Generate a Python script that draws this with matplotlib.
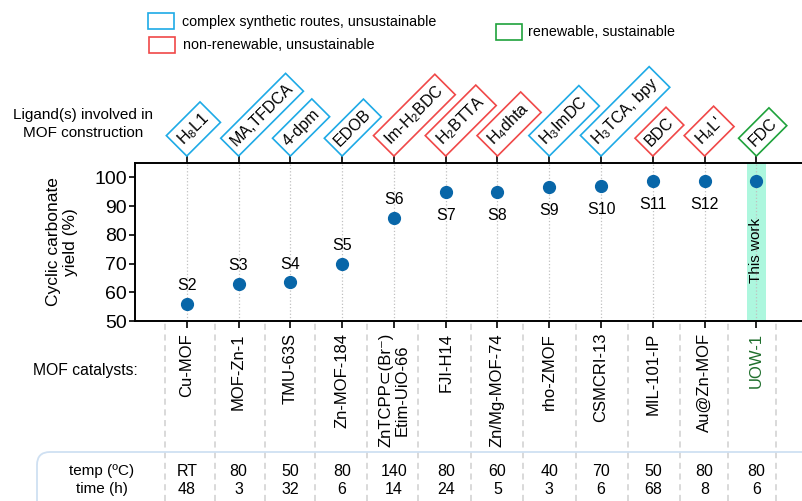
import numpy as np
import matplotlib.pyplot as plt
import matplotlib.transforms as mtransforms
from matplotlib.patches import Rectangle, FancyBboxPatch

plt.rcParams['font.family'] = ['Liberation Sans', 'DejaVu Sans']
plt.rcParams['mathtext.fontset'] = 'custom'
plt.rcParams['mathtext.rm'] = 'Liberation Sans'
plt.rcParams['mathtext.it'] = 'Liberation Sans:italic'

# data
catalysts = ['Cu-MOF', 'MOF-Zn-1', 'TMU-63S', 'Zn-MOF-184',
             'ZnTCPP\u2282(Br\u207b)\nEtim-UiO-66', 'FJI-H14', 'Zn/Mg-MOF-74',
             'rho-ZMOF', 'CSMCRI-13', 'MIL-101-IP', 'Au@Zn-MOF', 'UOW-1']
refs = ['S2', 'S3', 'S4', 'S5', 'S6', 'S7', 'S8', 'S9', 'S10', 'S11', 'S12', '']
yields = [56, 63, 63.5, 70, 86, 95, 95, 96.7, 97.1, 98.9, 98.9, 98.8]
ligands = [r'H$_{8}$L1', 'MA,TFDCA', '4-dpm', 'EDOB', r'Im-H$_{2}$BDC',
           r'H$_{2}$BTTA', r'H$_{4}$dhta', r'H$_{3}$ImDC', r'H$_{3}$TCA, bpy',
           'BDC', r"H$_{4}$L'", 'FDC']
ligand_kind = ['complex', 'complex', 'complex', 'complex', 'nonrenew',
               'nonrenew', 'nonrenew', 'complex', 'complex', 'nonrenew',
               'nonrenew', 'renew']
temps = ['RT', '80', '50', '80', '140', '80', '60', '40', '70', '50', '80', '80']
times = ['48', '3', '32', '6', '14', '24', '5', '3', '6', '68', '8', '6']

kind_col = {'complex': '#1eaae6', 'nonrenew': '#f04848', 'renew': '#1fa23c'}
kind_txt = {'complex': 'complex synthetic routes, unsustainable',
            'nonrenew': 'non-renewable, unsustainable',
            'renew': 'renewable, sustainable'}
dot_col = '#0866a8'

x = np.arange(1, len(catalysts) + 1)

fig = plt.figure(figsize=(8.03, 5.01), dpi=100)
ax = fig.add_axes([135/803, 1-321/501, 1-135/803, (321-163)/501])
ax.set_xlim(0, 12.9)
ax.set_ylim(50, 105)

# highlight for this work
ax.axvspan(x[-1]-0.19, x[-1]+0.19, color='#adf7de', zorder=0, lw=0)
ax.vlines(x, 50, 105, colors='#c0c0c0', linestyles=':', lw=0.9, zorder=0.5)
ax.plot(x, yields, 'o', color=dot_col, ms=8.5, zorder=3)

for i, (xi, yi, r) in enumerate(zip(x, yields, refs)):
    if not r:
        continue
    dy = 13 if i < 5 else -17
    ax.annotate(r, (xi, yi), xytext=(0, dy), textcoords='offset points',
                ha='center', va='center', fontsize=11.5)
ax.text(x[-1], 74.7, 'This work', rotation=90, ha='center', va='center', fontsize=11)

ax.spines['right'].set_visible(False)
for s in ['top', 'bottom', 'left']:
    ax.spines[s].set_linewidth(1.4)
ax.set_xticks(x)
ax.tick_params(axis='x', top=True, bottom=True, direction='out', length=5,
               width=1.2, labelbottom=False, labeltop=False)
ax.set_yticks(np.arange(50, 101, 10))
ax.tick_params(axis='y', direction='out', length=4, width=1.2, labelsize=14, pad=2)

fig.text(62/803, 1-242/501, 'Cyclic carbonate\nyield (%)', rotation=90,
         ha='center', va='center', fontsize=12.5, linespacing=1.1)

# ligand boxes above the axes
pad = 0.32
fs_lig = 11.5
for xi, lab, kind in zip(x, ligands, ligand_kind):
    ax.annotate(lab, xy=(xi, 1), xycoords=ax.get_xaxis_transform(),
                xytext=(0, 5 + pad*fs_lig*1.414), textcoords='offset points',
                rotation=45, rotation_mode='anchor', ha='left', va='bottom',
                fontsize=fs_lig, annotation_clip=False,
                bbox=dict(boxstyle='square,pad=%g' % pad, fc='white',
                          ec=kind_col[kind], lw=1.2))

fig.text(83/803, 1-124/501, 'Ligand(s) involved in\nMOF construction',
         ha='center', va='center', fontsize=11, linespacing=1.3)

# legend
leg_pos = {'complex': (148, 13, 182, 22), 'nonrenew': (149, 37, 183, 45),
           'renew': (496, 24, 528, 32)}
for k, (bx, by, tx, ty) in leg_pos.items():
    fig.patches.append(Rectangle((bx/803, 1-(by+16)/501), 26/803, 16/501,
                                 transform=fig.transFigure, fill=False,
                                 ec=kind_col[k], lw=1.2))
    fig.text(tx/803, 1-ty/501, kind_txt[k], ha='left', va='center', fontsize=10.3)

# catalyst names and conditions below the axes
bt = mtransforms.blended_transform_factory(ax.transData, fig.transFigure)
sep_x = [0.58, 1.55, 2.51, 3.48, 4.48, 5.47, 6.48, 7.49, 8.51, 9.52, 10.52, 11.45, 12.37]
ax.vlines(sep_x, 0, 1-321/501, transform=bt, colors='#d0d0d0',
          linestyles=(0, (4, 3)), lw=1.1, clip_on=False)

for i, (xi, name) in enumerate(zip(x, catalysts)):
    col = '#1f6e2c' if i == len(catalysts) - 1 else 'black'
    fig.text(xi, 1-333/501, name, transform=bt, rotation=90, ha='center',
             va='top', fontsize=12, color=col, linespacing=1.1)
fig.text(85/803, 1-370/501, 'MOF catalysts:', ha='center', va='center', fontsize=11.3)

fig.patches.append(FancyBboxPatch((0.37, -0.5), 8.5, 0.99,
                                  boxstyle='round,pad=0,rounding_size=0.13',
                                  transform=fig.dpi_scale_trans, fill=False,
                                  ec='#cfe0f2', lw=1.3))
fig.text(102/803, 1-471/501, 'temp (\u00baC)', ha='center', va='center', fontsize=11)
fig.text(102/803, 1-489/501, 'time (h)', ha='center', va='center', fontsize=11)
for xi, t, h in zip(x, temps, times):
    fig.text(xi, 1-471/501, t, transform=bt, ha='center', va='center', fontsize=11.5)
    fig.text(xi, 1-489/501, h, transform=bt, ha='center', va='center', fontsize=11.5)

fig.savefig('out.png', dpi=100)
